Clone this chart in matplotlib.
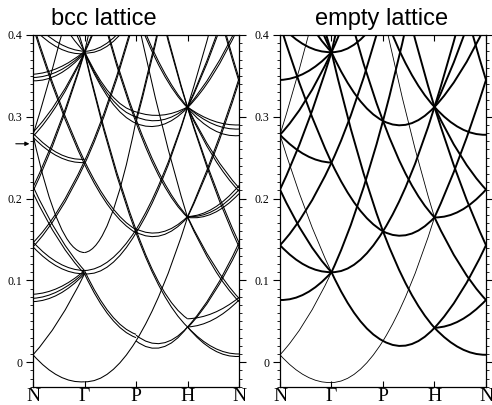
import matplotlib
matplotlib.use('Agg')
import matplotlib.pyplot as plt
from matplotlib.path import Path
from matplotlib.patches import PathPatch
from matplotlib.ticker import MultipleLocator

# k-path labels and energy ticks
k_labels = ['N', 'Γ', 'P', 'H', 'N']
y_ticks = [0.0, 0.1, 0.2, 0.3, 0.4]
y_tick_labels = ['0', '0.1', '0.2', '0.3', '0.4']
fermi_level = 0.267

# each band piece: energy at segment start, segment middle, segment end
# ---- empty lattice ----
empty_n_g = [(0.009, -0.017, -0.025), (0.278, 0.185, 0.110), (0.211, 0.152, 0.110),
             (0.143, 0.118, 0.110), (0.076, 0.084, 0.110), (0.009, 0.051, 0.110),
             (0.413, 0.320, 0.244), (0.278, 0.253, 0.244), (0.143, 0.185, 0.244),
             (0.614, 0.488, 0.379), (0.547, 0.455, 0.379), (0.480, 0.421, 0.379),
             (0.413, 0.387, 0.379), (0.345, 0.354, 0.379), (0.278, 0.320, 0.379),
             (0.211, 0.286, 0.379), (0.278, 0.387, 0.513)]
empty_n_g_deg = [1, 1, 4, 2, 4, 1, 2, 2, 2, 4, 2, 4, 4, 4, 2, 4, 1]

empty_g_p = [(-0.025, -0.012, 0.026), (0.110, 0.190, 0.295), (0.110, 0.122, 0.160),
             (0.110, 0.055, 0.026), (0.244, 0.324, 0.429), (0.244, 0.190, 0.160),
             (0.379, 0.526, 0.699), (0.379, 0.459, 0.564), (0.379, 0.391, 0.429),
             (0.379, 0.324, 0.295), (0.379, 0.257, 0.160), (0.513, 0.391, 0.295)]
empty_g_p_deg = [1, 3, 6, 3, 3, 3, 3, 6, 6, 6, 3, 3]

empty_p_h = [(0.026, 0.021, 0.042), (0.026, 0.089, 0.177), (0.160, 0.089, 0.042),
             (0.160, 0.156, 0.177), (0.160, 0.223, 0.312), (0.295, 0.223, 0.177),
             (0.295, 0.291, 0.312), (0.295, 0.425, 0.581), (0.429, 0.291, 0.177),
             (0.429, 0.358, 0.312), (0.564, 0.425, 0.312)]
empty_p_h_deg = [3, 1, 3, 3, 6, 3, 6, 3, 1, 6, 6]

empty_h_n = [(0.042, 0.017, 0.009), (0.042, 0.084, 0.143), (0.042, 0.051, 0.076),
             (0.177, 0.185, 0.211), (0.177, 0.118, 0.076), (0.177, 0.253, 0.345),
             (0.312, 0.286, 0.278), (0.312, 0.219, 0.143), (0.312, 0.253, 0.211),
             (0.312, 0.354, 0.413), (0.312, 0.387, 0.480), (0.312, 0.421, 0.547),
             (0.581, 0.455, 0.345)]
empty_h_n_deg = [2, 2, 2, 4, 2, 2, 6, 2, 4, 6, 4, 2, 2]

# ---- bcc lattice (split bands, small gaps) ----
bcc_n_g = [(0.009, -0.017, -0.024), (0.278, 0.170, 0.134), (0.215, 0.155, 0.112),
           (0.207, 0.149, 0.108), (0.147, 0.121, 0.112), (0.141, 0.116, 0.108),
           (0.083, 0.091, 0.112), (0.078, 0.087, 0.110), (0.074, 0.083, 0.108),
           (0.009, 0.051, 0.108), (0.414, 0.321, 0.246), (0.410, 0.317, 0.242),
           (0.280, 0.255, 0.248), (0.275, 0.251, 0.244), (0.146, 0.187, 0.246),
           (0.141, 0.183, 0.242), (0.614, 0.488, 0.379), (0.547, 0.455, 0.379),
           (0.480, 0.421, 0.379), (0.416, 0.390, 0.380), (0.409, 0.384, 0.377),
           (0.352, 0.360, 0.380), (0.348, 0.356, 0.379), (0.344, 0.352, 0.378),
           (0.281, 0.322, 0.379), (0.276, 0.318, 0.378), (0.214, 0.288, 0.380),
           (0.209, 0.284, 0.378), (0.278, 0.387, 0.513)]

bcc_g_p = [(-0.024, -0.012, 0.026), (0.134, 0.176, 0.295), (0.112, 0.125, 0.162),
           (0.108, 0.119, 0.158), (0.112, 0.059, 0.034), (0.108, 0.055, 0.030),
           (0.246, 0.326, 0.431), (0.242, 0.322, 0.427), (0.246, 0.192, 0.162),
           (0.242, 0.188, 0.158), (0.379, 0.526, 0.699), (0.380, 0.460, 0.566),
           (0.378, 0.457, 0.562), (0.380, 0.393, 0.431), (0.378, 0.389, 0.427),
           (0.380, 0.328, 0.306), (0.379, 0.324, 0.300), (0.378, 0.320, 0.292),
           (0.380, 0.259, 0.162), (0.378, 0.255, 0.158), (0.515, 0.393, 0.297),
           (0.511, 0.389, 0.293)]

bcc_p_h = [(0.026, 0.018, 0.043), (0.033, 0.023, 0.043), (0.026, 0.089, 0.177),
           (0.162, 0.091, 0.053), (0.158, 0.087, 0.043), (0.163, 0.159, 0.178),
           (0.159, 0.155, 0.177), (0.162, 0.225, 0.312), (0.158, 0.221, 0.311),
           (0.297, 0.225, 0.178), (0.293, 0.221, 0.177), (0.306, 0.302, 0.312),
           (0.300, 0.296, 0.312), (0.292, 0.290, 0.311), (0.297, 0.427, 0.581),
           (0.293, 0.423, 0.581), (0.429, 0.291, 0.177), (0.431, 0.360, 0.312),
           (0.427, 0.356, 0.311), (0.566, 0.427, 0.312), (0.562, 0.423, 0.311)]

bcc_h_n = [(0.043, 0.018, 0.010), (0.043, 0.015, 0.007), (0.043, 0.086, 0.146),
           (0.042, 0.083, 0.141), (0.053, 0.060, 0.079), (0.043, 0.052, 0.076),
           (0.178, 0.188, 0.216), (0.178, 0.185, 0.211), (0.177, 0.182, 0.206),
           (0.178, 0.120, 0.078), (0.177, 0.116, 0.074), (0.178, 0.255, 0.347),
           (0.177, 0.251, 0.343), (0.312, 0.295, 0.290), (0.312, 0.291, 0.285),
           (0.311, 0.284, 0.277), (0.312, 0.221, 0.146), (0.311, 0.217, 0.141),
           (0.312, 0.255, 0.213), (0.311, 0.251, 0.209), (0.312, 0.356, 0.415),
           (0.311, 0.352, 0.411), (0.312, 0.389, 0.482), (0.311, 0.385, 0.478),
           (0.312, 0.421, 0.547), (0.581, 0.457, 0.347), (0.581, 0.453, 0.343)]


def draw_segment(ax, seg, bands, widths):
    """draw each band piece as a parabola through start, middle and end"""
    for (e0, em, e1), lw in zip(bands, widths):
        ctrl = 2 * em - 0.5 * (e0 + e1)
        path = Path([(seg, e0), (seg + 0.5, ctrl), (seg + 1, e1)],
                    [Path.MOVETO, Path.CURVE3, Path.CURVE3])
        ax.add_patch(PathPatch(path, fill=False, lw=lw, edgecolor='black',
                               capstyle='butt'))


def style_axes(ax):
    ax.set_xlim(0, 4)
    ax.set_ylim(-0.03, 0.4)
    ax.set_xticks(range(len(k_labels)))
    ax.set_xticklabels(k_labels, fontsize=14, family='Liberation Serif')
    ax.set_yticks(y_ticks)
    ax.set_yticklabels(y_tick_labels, fontsize=8.5, family='Liberation Serif')
    ax.yaxis.set_minor_locator(MultipleLocator(0.01))
    ax.tick_params(axis='y', which='both', direction='out', left=True, right=True)
    ax.tick_params(axis='y', which='major', length=5, width=0.8, pad=2.5)
    ax.tick_params(axis='y', which='minor', length=2.5, width=0.6)
    ax.tick_params(axis='x', direction='in', top=True, bottom=True,
                   length=4, width=0.8, pad=1)
    for sp in ax.spines.values():
        sp.set_linewidth(0.9)


fig = plt.figure(figsize=(4.92, 4.05), dpi=100)
ax1 = fig.add_axes([0.0671, 0.0452, 0.4187, 0.8684])
ax2 = fig.add_axes([0.5691, 0.0452, 0.4187, 0.8684])

# bcc lattice panel
for seg, bands in enumerate([bcc_n_g, bcc_g_p, bcc_p_h, bcc_h_n]):
    draw_segment(ax1, seg, bands, [0.75] * len(bands))

# empty lattice panel
empty_sets = [(empty_n_g, empty_n_g_deg), (empty_g_p, empty_g_p_deg),
              (empty_p_h, empty_p_h_deg), (empty_h_n, empty_h_n_deg)]
for seg, (bands, deg) in enumerate(empty_sets):
    draw_segment(ax2, seg, bands, [0.6 if d == 1 else 1.4 for d in deg])

style_axes(ax1)
style_axes(ax2)

# Fermi level arrow
ax1.annotate('', xy=(-0.004, fermi_level), xytext=(-0.097, fermi_level),
             xycoords=('axes fraction', 'data'), textcoords=('axes fraction', 'data'),
             arrowprops=dict(arrowstyle='-|>', lw=0.8, color='black', mutation_scale=6),
             annotation_clip=False)

fig.text(0.2104, 0.938, 'bcc lattice', fontsize=17, family='Liberation Sans',
         ha='center', va='baseline')
fig.text(0.7754, 0.938, 'empty lattice', fontsize=17, family='Liberation Sans',
         ha='center', va='baseline')

fig.savefig('out.png', dpi=100)
